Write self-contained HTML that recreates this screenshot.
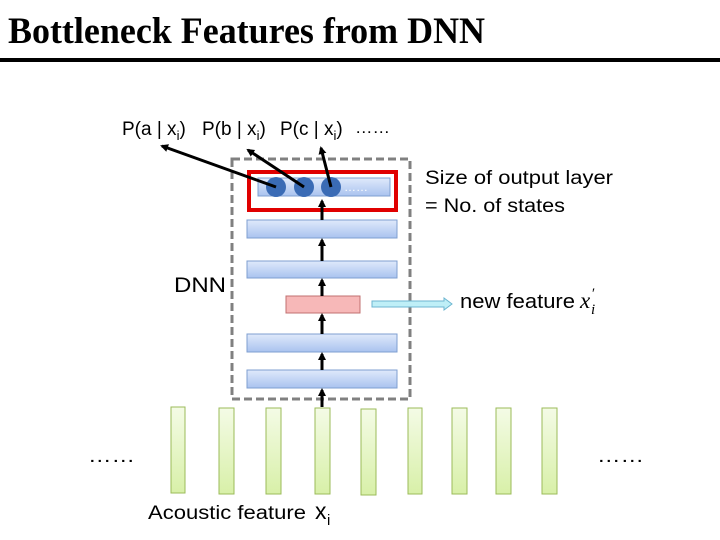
<!DOCTYPE html>
<html><head><meta charset="utf-8"><style>
html,body{margin:0;padding:0;background:#fff;}
svg{display:block;}
text{font-family:"Liberation Sans","DejaVu Sans",sans-serif;}
</style></head><body>
<svg width="720" height="540" viewBox="0 0 720 540" xmlns="http://www.w3.org/2000/svg">
<defs>
<linearGradient id="bl" x1="0" y1="0" x2="0" y2="1"><stop offset="0" stop-color="#dfe9fb"/><stop offset="1" stop-color="#a9c3ef"/></linearGradient>
<linearGradient id="gr" x1="0" y1="0" x2="0" y2="1"><stop offset="0" stop-color="#f4fbe6"/><stop offset="1" stop-color="#d8f0a8"/></linearGradient>
<marker id="ah" markerWidth="8" markerHeight="8" refX="6" refY="4" orient="auto" markerUnits="userSpaceOnUse"><path d="M0,0 L8,4 L0,8 z" fill="#000"/></marker>
</defs>
<text x="8" y="43" font-weight="bold" font-size="37" textLength="477" lengthAdjust="spacingAndGlyphs" style="font-family:'Liberation Serif',serif">Bottleneck Features from DNN</text>
<rect x="0" y="58" width="720" height="4" fill="#000"/>

<text x="122" y="135" font-size="19">P(a | x<tspan font-size="13" dy="5">i</tspan><tspan dy="-5">)</tspan></text>
<text x="202" y="135" font-size="19">P(b | x<tspan font-size="13" dy="5">i</tspan><tspan dy="-5">)</tspan></text>
<text x="280" y="135" font-size="19">P(c | x<tspan font-size="13" dy="5">i</tspan><tspan dy="-5">)</tspan></text>
<text x="355" y="133" font-size="17" textLength="35" lengthAdjust="spacingAndGlyphs">……</text>

<rect x="232" y="159" width="178" height="240" fill="none" stroke="#808080" stroke-width="3" stroke-dasharray="8,4"/>
<rect x="258" y="178" width="132" height="18" fill="url(#bl)" stroke="#7f9fd0" stroke-width="1"/>
<text x="344" y="191" font-size="12" fill="#fff">……</text>
<circle cx="276" cy="187" r="10" fill="#3a6bb5"/>
<circle cx="304" cy="187" r="10" fill="#3a6bb5"/>
<circle cx="331" cy="187" r="10" fill="#3a6bb5"/>
<rect x="249" y="172" width="147" height="38" fill="none" stroke="#e00000" stroke-width="4"/>

<line x1="276" y1="187" x2="162" y2="146" stroke="#000" stroke-width="3" marker-end="url(#ah)"/>
<line x1="304" y1="187" x2="248" y2="150" stroke="#000" stroke-width="3" marker-end="url(#ah)"/>
<line x1="331" y1="187" x2="321" y2="148" stroke="#000" stroke-width="3" marker-end="url(#ah)"/>

<rect x="247" y="220" width="150" height="18" fill="url(#bl)" stroke="#7f9fd0"/>
<rect x="247" y="261" width="150" height="17" fill="url(#bl)" stroke="#7f9fd0"/>
<rect x="286" y="296" width="74" height="17" fill="#f7b8b8" stroke="#c07070"/>
<rect x="247" y="334" width="150" height="18" fill="url(#bl)" stroke="#7f9fd0"/>
<rect x="247" y="370" width="150" height="18" fill="url(#bl)" stroke="#7f9fd0"/>

<g stroke="#000" stroke-width="3" marker-end="url(#ah)">
<line x1="322" y1="220" x2="322" y2="201"/>
<line x1="322" y1="261" x2="322" y2="240"/>
<line x1="322" y1="296" x2="322" y2="280"/>
<line x1="322" y1="334" x2="322" y2="315"/>
<line x1="322" y1="370" x2="322" y2="354"/>
<line x1="322" y1="407" x2="322" y2="390"/>
</g>

<path d="M372,301 L444,301 L444,298 L452,304 L444,310 L444,307 L372,307 z" fill="#bfeff7" stroke="#6cb6d0" stroke-width="1"/>
<text x="460" y="308" font-size="20" textLength="115" lengthAdjust="spacingAndGlyphs">new feature</text>
<text x="580" y="308" font-size="23" font-style="italic" style="font-family:'Liberation Serif',serif">x</text>
<text x="591" y="298" font-size="15" font-style="italic" style="font-family:'Liberation Serif',serif">′</text>
<text x="591" y="314" font-size="15" font-style="italic" style="font-family:'Liberation Serif',serif">i</text>

<text x="425" y="184" font-size="19" textLength="188" lengthAdjust="spacingAndGlyphs">Size of output layer</text>
<text x="425" y="212" font-size="19" textLength="140" lengthAdjust="spacingAndGlyphs">= No. of states</text>
<text x="174" y="292" font-size="21" textLength="52" lengthAdjust="spacingAndGlyphs">DNN</text>

<g fill="url(#gr)" stroke="#9bbb59" stroke-width="1">
<rect x="171" y="407" width="14" height="86"/>
<rect x="219" y="408" width="15" height="86"/>
<rect x="266" y="408" width="15" height="86"/>
<rect x="315" y="408" width="15" height="86"/>
<rect x="361" y="409" width="15" height="86"/>
<rect x="408" y="408" width="14" height="86"/>
<rect x="452" y="408" width="15" height="86"/>
<rect x="496" y="408" width="15" height="86"/>
<rect x="542" y="408" width="15" height="86"/>
</g>
<text x="88" y="462" font-size="19" textLength="47" lengthAdjust="spacingAndGlyphs">……</text>
<text x="597" y="462" font-size="19" textLength="47" lengthAdjust="spacingAndGlyphs">……</text>
<text x="148" y="519" font-size="19" textLength="158" lengthAdjust="spacingAndGlyphs">Acoustic feature</text>
<text x="315" y="519" font-size="23">x</text>
<text x="327" y="525" font-size="15">i</text>
</svg>
</body></html>
